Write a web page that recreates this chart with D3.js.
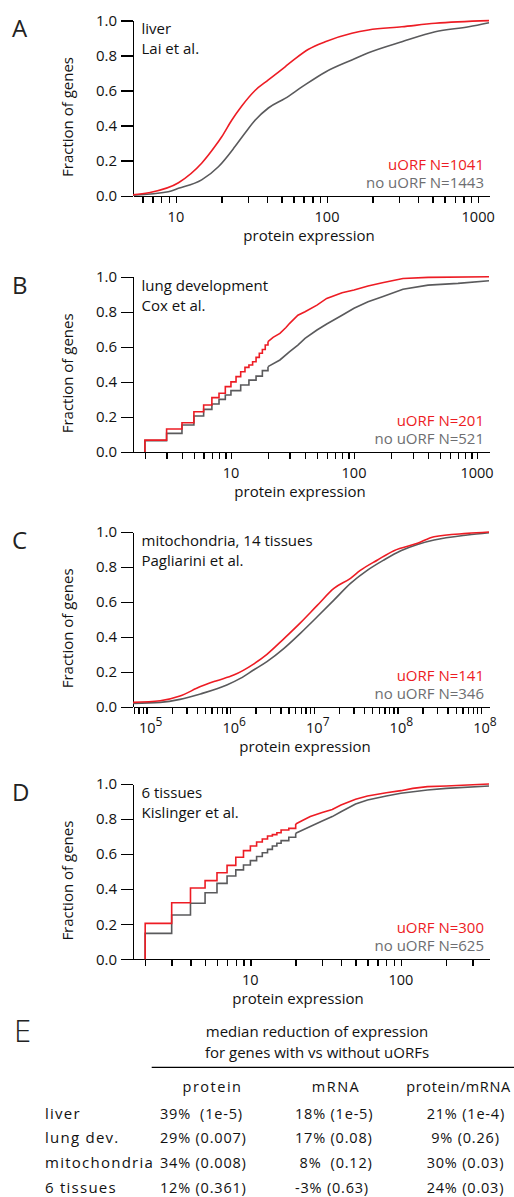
<!DOCTYPE html>
<html>
<head>
<meta charset="utf-8">
<script src="https://cdn.jsdelivr.net/npm/d3@7"></script>
<style>
  body { margin: 0; background: #fff; }
  svg { display: block; font-family: "Open Sans", "Noto Sans", sans-serif; }
  .axis path, .axis line { stroke: #000; stroke-width: 1.4; shape-rendering: crispEdges; }
  .axis text { font-family: "Open Sans", sans-serif; fill: #111; }
</style>
</head>
<body>
<svg id="fig" width="514" height="1197"></svg>
<script>
// data: [expression, cumulative fraction]
const liverUorf = [[5.2,0.005],[6.6,0.017],[10.4,0.074],[14.8,0.185],[18.1,0.28],[20.1,0.336],[23.4,0.43],[27.2,0.51],[33.4,0.60],[40.9,0.66],[52.8,0.735],[61.3,0.78],[75.4,0.835],[97.3,0.878],[146,0.926],[188,0.945],[313,0.963],[520,0.983],[1180,0.998]];
const liverNoUorf = [[5.2,0.003],[8.9,0.023],[10.4,0.042],[14.8,0.09],[19.1,0.165],[24.6,0.28],[28.6,0.356],[33.4,0.43],[40.9,0.50],[52.8,0.555],[68.2,0.62],[98.4,0.707],[146,0.774],[188,0.815],[313,0.878],[520,0.935],[867,0.963],[1180,0.986]];

const lungUorf = [[2,0.068],[3,0.131],[4,0.167],[5,0.23],[6,0.268],[7,0.31],[8,0.335],[9,0.373],[10,0.40],[11,0.43],[12,0.458],[13,0.483],[14,0.496],[15,0.515],[16,0.54],[17,0.563],[18,0.585],[19,0.61],[20,0.63],[22,0.654],[25,0.677],[28,0.71],[30,0.734],[35,0.78],[40,0.80],[50,0.838],[60,0.876],[80,0.909],[100,0.924],[130,0.947],[170,0.966],[250,0.99],[400,0.996],[1250,1.0]];
const lungNoUorf = [[2,0.065],[3,0.106],[4,0.154],[5,0.205],[6,0.243],[7,0.274],[8,0.30],[9,0.325],[10,0.35],[12,0.382],[14,0.41],[16,0.433],[18,0.464],[20,0.487],[25,0.525],[30,0.572],[35,0.61],[40,0.648],[50,0.696],[60,0.73],[80,0.78],[100,0.82],[130,0.857],[170,0.886],[250,0.928],[400,0.952],[700,0.962],[1250,0.977]];

const mitoUorf = [[6.86e4,0.025],[1.45e5,0.034],[2.5e5,0.061],[4.4e5,0.115],[6.9e5,0.149],[1.1e6,0.181],[1.9e6,0.244],[2.75e6,0.30],[4.4e6,0.39],[6.9e6,0.48],[1.1e7,0.58],[1.74e7,0.677],[2.75e7,0.735],[3.6e7,0.78],[5.8e7,0.84],[9.1e7,0.893],[1.74e8,0.935],[2.75e8,0.973],[6.9e8,0.992],[1.25e9,1.0]];
const mitoNoUorf = [[6.86e4,0.019],[1.45e5,0.025],[2.5e5,0.042],[4.4e5,0.073],[9.1e5,0.124],[1.32e6,0.162],[1.9e6,0.21],[2.75e6,0.258],[4.4e6,0.334],[6.9e6,0.42],[1.1e7,0.515],[1.74e7,0.61],[2.75e7,0.706],[4.4e7,0.782],[6.9e7,0.84],[1.1e8,0.893],[1.74e8,0.929],[2.75e8,0.954],[6.9e8,0.983],[1.25e9,0.996]];

const tissueUorf = [[2,0.205],[3,0.323],[4,0.407],[5,0.449],[6,0.494],[7,0.536],[8,0.582],[9,0.62],[10,0.646],[11,0.669],[12,0.686],[13,0.703],[14,0.711],[15,0.722],[16,0.738],[18,0.747],[20,0.772],[22,0.79],[25,0.814],[30,0.837],[35,0.855],[40,0.88],[50,0.913],[60,0.932],[80,0.95],[100,0.962],[120,0.975],[150,0.985],[200,0.989],[385,1.0]];
const tissueNoUorf = [[2,0.148],[3,0.253],[4,0.32],[5,0.38],[6,0.433],[7,0.475],[8,0.51],[9,0.538],[10,0.563],[11,0.586],[12,0.608],[13,0.627],[14,0.646],[15,0.662],[16,0.677],[18,0.696],[20,0.719],[25,0.757],[30,0.789],[35,0.814],[40,0.842],[50,0.886],[60,0.909],[80,0.932],[100,0.947],[150,0.966],[200,0.975],[385,0.989]];

const yTicks = [0, 0.2, 0.4, 0.6, 0.8, 1.0];
const mitoTickExps = ["5", "6", "7", "8", "8"];   // as printed (last one repeats 8)

// table
const tableRows = ["liver", "lung dev.", "mitochondria", "6 tissues"];
const tableHeaders = ["protein", "mRNA", "protein/mRNA"];
const proteinCol = ["39%  (1e-5)", "29% (0.007)", "34% (0.008)", "12% (0.361)"];
const mrnaCol = ["18% (1e-5)", "17% (0.08)", " 8%  (0.12)", "-3% (0.63)"];
const ratioCol = ["21% (1e-4)", " 9% (0.26)", "30% (0.03)", "24% (0.03)"];

const RED = "#ed1c24", GRAY = "#5a5a5c", GRAY_TXT = "#6d6e71";
const svg = d3.select("#fig");

const panels = [
  { letter: "A", top: 20.3, bottom: 195.7, domain: [5.2, 1180], red: liverUorf, gray: liverNoUorf, step: false,
    note: ["liver", "Lai et al."], nRed: "uORF N=1041", nGray: "no uORF N=1443", xlab: 309 },
  { letter: "B", top: 276.7, bottom: 452, domain: [1.6, 1250], red: lungUorf, gray: lungNoUorf, step: true,
    note: ["lung development", "Cox et al."], nRed: "uORF N=201", nGray: "no uORF N=521", xlab: 300 },
  { letter: "C", top: 532, bottom: 706.7, domain: [6.86e4, 1.25e9], red: mitoUorf, gray: mitoNoUorf, step: false,
    note: ["mitochondria, 14 tissues", "Pagliarini et al."], nRed: "uORF N=141", nGray: "no uORF N=346", xlab: 305, sup: true },
  { letter: "D", top: 784, bottom: 959.3, domain: [1.66, 385], red: tissueUorf, gray: tissueNoUorf, step: true,
    note: ["6 tissues", "Kislinger et al."], nRed: "uORF N=300", nGray: "no uORF N=625", xlab: 298 }
];

const LEFT = 133, RIGHT = 489;

panels.forEach(p => {
  const g = svg.append("g");
  const x = d3.scaleLog().domain(p.domain).range([LEFT, RIGHT]);
  const y = d3.scaleLinear().domain([0, 1]).range([p.bottom, p.top]);

  // minor + major ticks at 1..9 x 10^k
  const ticks = [];
  const k0 = Math.floor(Math.log10(p.domain[0])), k1 = Math.ceil(Math.log10(p.domain[1]));
  for (let k = k0; k <= k1; k++) {
    for (let m = 1; m <= 9; m++) {
      const v = m * Math.pow(10, k);
      if (v >= p.domain[0] && v <= p.domain[1]) ticks.push(v);
    }
  }
  g.append("g").attr("class", "axis")
    .attr("transform", `translate(0,${p.bottom})`)
    .call(d3.axisBottom(x).tickValues(ticks).tickSize(7).tickSizeOuter(0).tickFormat(""));

  // decade labels
  const decades = ticks.filter(v => Math.abs(Math.log10(v) - Math.round(Math.log10(v))) < 1e-9);
  decades.forEach((v, i) => {
    const t = g.append("text")
      .attr("x", x(v) + (p.sup ? 4 : 0))
      .attr("y", p.bottom + 26)
      .attr("text-anchor", "middle")
      .attr("font-size", 14.5)
      .attr("fill", "#111");
    if (p.sup) {
      t.append("tspan").text("10");
      t.append("tspan").attr("dy", -7).attr("font-size", 12).text(mitoTickExps[i]);
    } else {
      t.text(d3.format("d")(v));
    }
  });

  g.append("g").attr("class", "axis")
    .attr("transform", `translate(${LEFT},0)`)
    .call(d3.axisLeft(y).tickValues(yTicks).tickSize(12).tickSizeOuter(0).tickPadding(4).tickFormat(d3.format(".1f")))
    .selectAll("text").attr("font-size", 15);

  // curves
  const line = d3.line().x(d => x(d[0])).y(d => y(d[1]));
  [[p.gray, GRAY], [p.red, RED]].forEach(([data, col]) => {
    if (p.step) {
      const stepPart = [[data[0][0], 0]].concat(data.filter(d => d[0] <= 20));
      const smooth = data.filter(d => d[0] >= 20);
      g.append("path").attr("d", line.curve(d3.curveStepAfter)(stepPart))
        .attr("fill", "none").attr("stroke", col).attr("stroke-width", 1.6);
      g.append("path").attr("d", line.curve(d3.curveLinear)(smooth))
        .attr("fill", "none").attr("stroke", col).attr("stroke-width", 1.6);
    } else {
      g.append("path").attr("d", line.curve(d3.curveMonotoneX)(data))
        .attr("fill", "none").attr("stroke", col).attr("stroke-width", 1.6);
    }
  });

  // panel letter
  g.append("text").attr("x", 12).attr("y", p.top + 17)
    .attr("font-size", 24).attr("fill", "#222").text(p.letter);

  // y label
  g.append("text")
    .attr("transform", `translate(72.5,${(p.top + p.bottom) / 2 + 9}) rotate(-90)`)
    .attr("text-anchor", "middle").attr("font-size", 15).attr("fill", "#111")
    .text("Fraction of genes");

  // x label
  g.append("text").attr("x", p.xlab).attr("y", p.bottom + 45)
    .attr("text-anchor", "middle").attr("font-size", 15).attr("fill", "#111")
    .text("protein expression");

  // dataset note
  p.note.forEach((s, i) => {
    g.append("text").attr("x", 141.5).attr("y", p.top + 14 + i * 20)
      .attr("font-size", 15).attr("fill", "#111").text(s);
  });

  // N labels
  g.append("text").attr("x", 484).attr("y", p.bottom - 26)
    .attr("text-anchor", "end").attr("font-size", 15).attr("fill", RED).text(p.nRed);
  g.append("text").attr("x", 484).attr("y", p.bottom - 8)
    .attr("text-anchor", "end").attr("font-size", 15).attr("fill", GRAY_TXT).text(p.nGray);
});

// panel E: table
const tb = svg.append("g");
tb.append("text").attr("x", 14).attr("y", 1042).attr("font-size", 31).attr("font-weight", 300)
  .attr("fill", "#222").text("E");
tb.append("text").attr("x", 317).attr("y", 1037).attr("text-anchor", "middle")
  .attr("font-size", 15).attr("fill", "#111").text("median reduction of expression");
tb.append("text").attr("x", 317).attr("y", 1057.5).attr("text-anchor", "middle")
  .attr("font-size", 15).attr("fill", "#111").text("for genes with vs without uORFs");
tb.append("line").attr("x1", 151.7).attr("x2", 514).attr("y1", 1067.3).attr("y2", 1067.3)
  .attr("stroke", "#000").attr("stroke-width", 1.2);

const headerX = [212.5, 336, 458.5];
tableHeaders.forEach((h, i) => {
  tb.append("text").attr("x", headerX[i]).attr("y", 1091.5).attr("text-anchor", "middle")
    .attr("font-size", 14.5).attr("letter-spacing", i === 2 ? 0.6 : 1.5).attr("fill", "#111").text(h);
});

const rowY = d3.scalePoint().domain(tableRows).range([1118.5, 1192.5]);
const colX = [160, 295, 426.7];
tableRows.forEach((r, i) => {
  tb.append("text").attr("x", 45).attr("y", rowY(r)).attr("font-size", 15)
    .attr("letter-spacing", 1.25).attr("fill", "#111").text(r);
  [proteinCol, mrnaCol, ratioCol].forEach((col, j) => {
    tb.append("text").attr("x", colX[j]).attr("y", rowY(r)).attr("font-size", 14.5)
      .attr("letter-spacing", 0.8).attr("xml:space", "preserve").style("white-space", "pre")
      .attr("fill", "#111").text(col[i]);
  });
});
</script>
</body>
</html>
